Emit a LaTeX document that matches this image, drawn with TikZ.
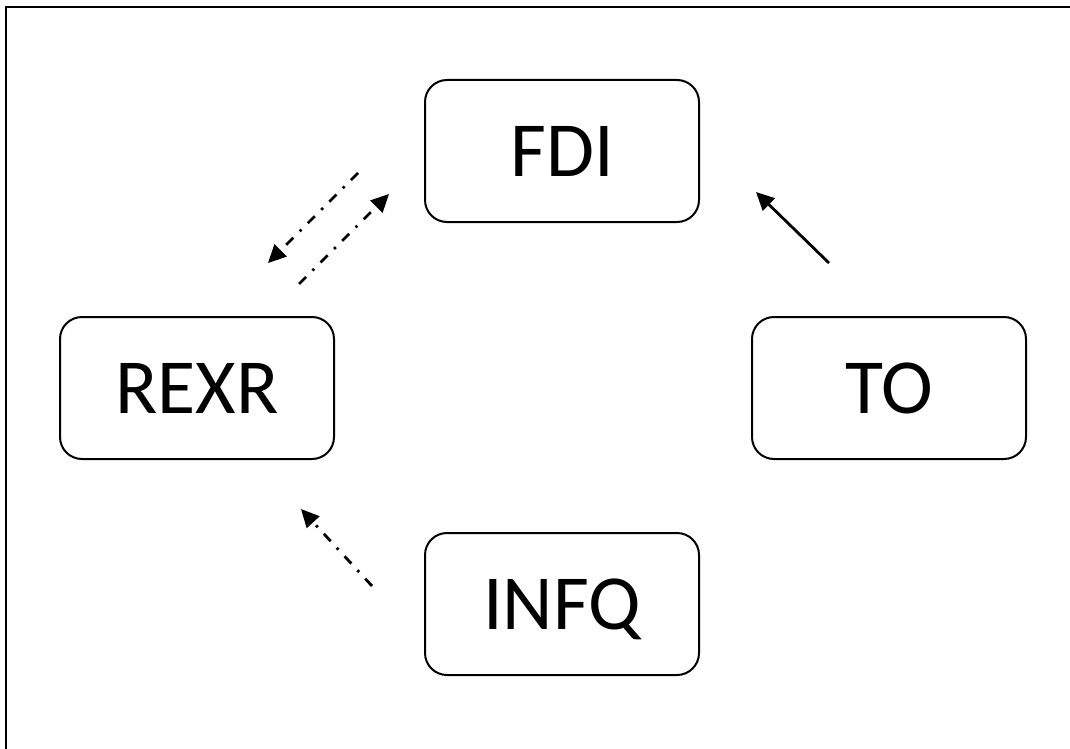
\documentclass[tikz,border=0pt]{standalone}
\usepackage{fontspec}
\setmainfont{Carlito}
\usetikzlibrary{arrows.meta}
\tikzstyle{block} = [rectangle, draw, line width=2pt, rounded corners=22pt, minimum width=274pt, minimum height=142pt, inner sep=0pt, text height=50pt, text depth=0pt, font=\fontsize{78}{90}\selectfont]
\tikzstyle{boundingbox} = [line width=2.5pt]
\tikzstyle{line} = [draw, line width=2.8pt, -{Triangle[length=18pt, width=17pt]}]
\tikzstyle{dashline} = [line, dash pattern=on 10pt off 9pt on 2.5pt off 9pt]

\begin{document}
\begin{tikzpicture}[x=1pt, y=-1pt]

\useasboundingbox (0, 0) rectangle (1070, 749);
\draw [boundingbox] (6, 749) -- (6, 7) -- (1070, 7);

% boxes

\node [block] at (562, 151) (FDI) {FDI};
\node [block] at (197, 388) (REXR) {REXR};
\node [block] at (889, 388) (TO) {TO};
\node [block] at (562, 604) (INFQ) {INFQ};

% arrow ends

\coordinate (fdi out) at (358, 173);
\coordinate (rexr in) at (268, 263);
\coordinate (rexr out) at (299, 284);
\coordinate (fdi in) at (389, 194);
\coordinate (to out) at (829, 263);
\coordinate (to fdi) at (756, 192);
\coordinate (infq out) at (372, 586);
\coordinate (infq rexr) at (301, 509);

\path [dashline] (fdi out) to (rexr in);
\path [dashline] (rexr out) to (fdi in);
\path [line] (to out) to (to fdi);
\path [dashline] (infq out) to (infq rexr);

\end{tikzpicture}
\end{document}
